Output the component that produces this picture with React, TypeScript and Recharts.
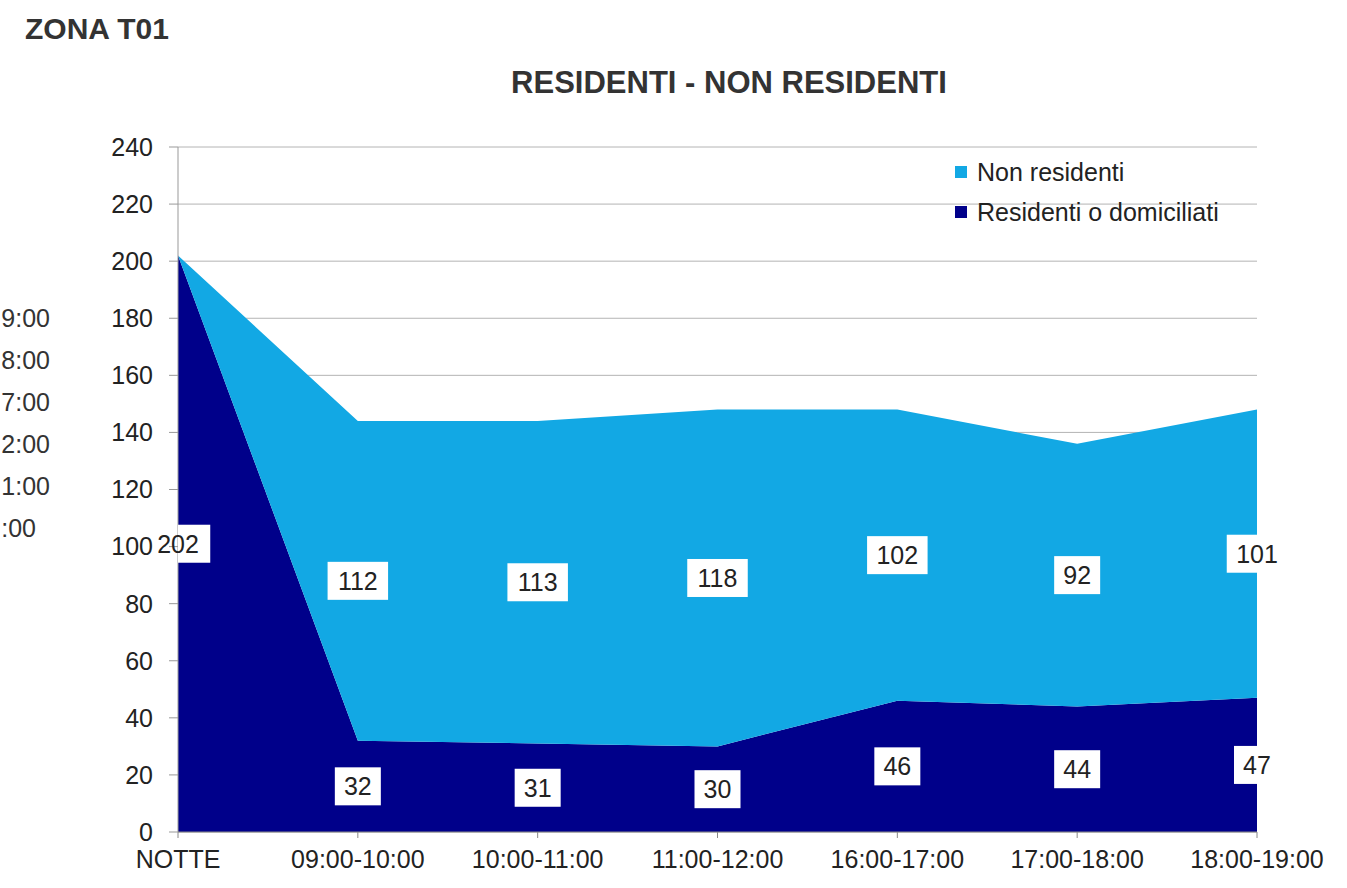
import React from "react";
import {
  AreaChart,
  Area,
  Line,
  XAxis,
  YAxis,
  CartesianGrid,
  LabelList,
} from "recharts";

const slots = [
  "NOTTE",
  "09:00-10:00",
  "10:00-11:00",
  "11:00-12:00",
  "16:00-17:00",
  "17:00-18:00",
  "18:00-19:00",
];
const residenti = [202, 32, 31, 30, 46, 44, 47];
const nonResidenti = [0, 112, 113, 118, 102, 92, 101];
const yTicks = [0, 20, 40, 60, 80, 100, 120, 140, 160, 180, 200, 220, 240];
const sideFragments = ["9:00", "8:00", "7:00", "2:00", "1:00", ":00"];

const FONT = '"Liberation Sans", Arial, sans-serif';
const LIGHT = "#12A8E4";
const DARK = "#00008A";

const series = [
  { key: "non", name: "Non residenti", color: LIGHT },
  { key: "res", name: "Residenti o domiciliati", color: DARK },
];

const data = slots.map((slot, i) => ({
  slot,
  res: residenti[i],
  non: nonResidenti[i],
  resMid: residenti[i] / 2,
  nonMid: residenti[i] + nonResidenti[i] / 2,
}));

function makeBoxLabel(values: number[]) {
  return (props: any) => {
    const { x, y, index } = props;
    const v = values[index];
    if (!v) return null;
    const txt = String(v);
    const w = txt.length * 14.5 + 17;
    const h = 38;
    // first box starts at the axis, like the original
    const left = index === 0 ? x : x - w / 2;
    const boxW = index === 0 ? w / 2 + 2 : w;
    return (
      <g>
        <rect x={left} y={y - h / 2} width={boxW} height={h} fill="#fff" />
        <text
          x={x}
          y={y}
          textAnchor="middle"
          dominantBaseline="central"
          fontSize={25}
          fontFamily={FONT}
          fill="#222"
        >
          {txt}
        </text>
      </g>
    );
  };
}

export default function App() {
  return (
    <div
      style={{
        position: "absolute",
        left: 0,
        top: 0,
        width: 1347,
        height: 888,
        background: "#fff",
        fontFamily: FONT,
        overflow: "hidden",
      }}
    >
      <div
        style={{
          position: "absolute",
          left: 25,
          top: 12,
          fontSize: 30,
          fontWeight: "bold",
          color: "#333",
        }}
      >
        ZONA T01
      </div>
      <div
        style={{
          position: "absolute",
          left: 0,
          width: 1458,
          textAlign: "center",
          top: 65,
          fontSize: 31,
          fontWeight: "bold",
          color: "#333",
        }}
      >
        RESIDENTI - NON RESIDENTI
      </div>
      {sideFragments.map((t, i) => (
        <div
          key={i}
          style={{
            position: "absolute",
            right: 1347 - (i === sideFragments.length - 1 ? 36 : 50),
            top: 304 + i * 42,
            fontSize: 25,
            color: "#333",
            whiteSpace: "nowrap",
          }}
        >
          {t}
        </div>
      ))}
      <AreaChart
        width={1347}
        height={888}
        data={data}
        margin={{ top: 147, right: 90, bottom: 16, left: 108 }}
      >
        <CartesianGrid vertical={false} stroke="#b4b4b4" />
        <XAxis
          dataKey="slot"
          height={40}
          tickSize={6}
          tickMargin={12}
          stroke="#888"
          tick={{ fill: "#222", fontSize: 25, fontFamily: FONT }}
          interval={0}
        />
        <YAxis
          width={70}
          domain={[0, 240]}
          ticks={yTicks}
          tickSize={9}
          tickMargin={16}
          stroke="#999"
          tick={{ fill: "#222", fontSize: 25, fontFamily: FONT }}
        />
        <Area
          type="linear"
          dataKey="res"
          name="Residenti o domiciliati"
          stackId="1"
          stroke="none"
          fill={DARK}
          fillOpacity={1}
          isAnimationActive={false}
        />
        <Area
          type="linear"
          dataKey="non"
          name="Non residenti"
          stackId="1"
          stroke="none"
          fill={LIGHT}
          fillOpacity={1}
          isAnimationActive={false}
        />
        <Line
          dataKey="resMid"
          stroke="none"
          dot={false}
          activeDot={false}
          legendType="none"
          isAnimationActive={false}
        >
          <LabelList dataKey="resMid" content={makeBoxLabel(residenti)} />
        </Line>
        <Line
          dataKey="nonMid"
          stroke="none"
          dot={false}
          activeDot={false}
          legendType="none"
          isAnimationActive={false}
        >
          <LabelList dataKey="nonMid" content={makeBoxLabel(nonResidenti)} />
        </Line>
      </AreaChart>
      <div
        style={{
          position: "absolute",
          left: 955,
          top: 152,
          fontSize: 25,
          color: "#222",
        }}
      >
        {series.map((s) => (
          <div
            key={s.key}
            style={{ display: "flex", alignItems: "center", height: 40 }}
          >
            <span
              style={{
                display: "inline-block",
                width: 12,
                height: 12,
                background: s.color,
                marginRight: 10,
              }}
            />
            <span>{s.name}</span>
          </div>
        ))}
      </div>
    </div>
  );
}
